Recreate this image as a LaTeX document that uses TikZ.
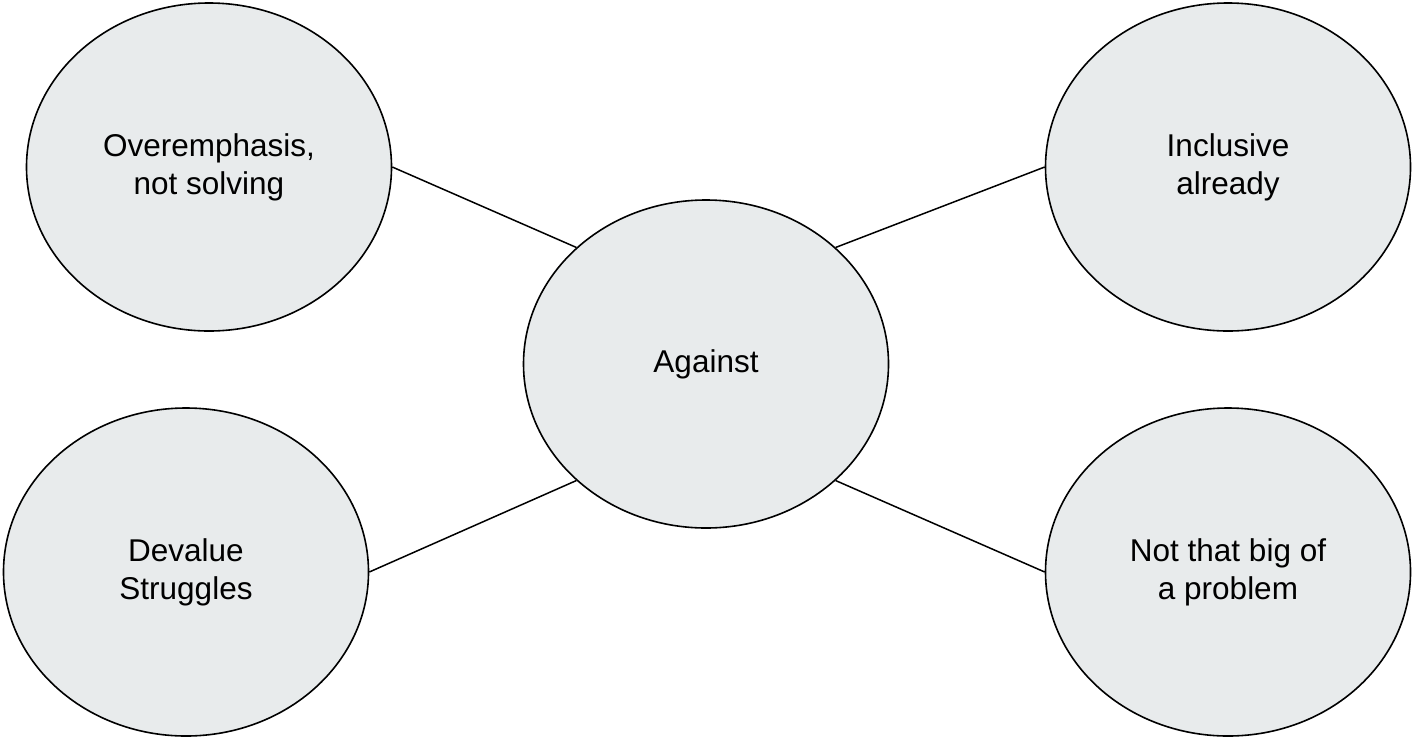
\documentclass[tikz,border=0pt]{standalone}
\usepackage{fontspec}
\setmainfont{Liberation Sans}
\usetikzlibrary{shapes.geometric}
\definecolor{bubblefill}{HTML}{E8EBEC}
\tikzset{
  bubble/.style={ellipse, draw=black, line width=1.6pt, fill=bubblefill,
    minimum width=365pt, minimum height=328pt, inner sep=0pt, align=center,
    font=\fontsize{31.5}{38}\selectfont},
  link/.style={draw=black, line width=1.5pt}
}
\begin{document}
\begin{tikzpicture}[x=1pt,y=-1pt]
\useasboundingbox (0,0) rectangle (1412,737);
\node[bubble] (tl) at (209,167) {Overemphasis,\\not solving};
\node[bubble] (bl) at (186,572) {Devalue\\Struggles};
\node[bubble] (tr) at (1228,167) {Inclusive\\already};
\node[bubble] (br) at (1228,572) {Not that big of\\a problem};
\node[bubble] (c) at (706,364) {Against};
\draw[link] (c.north west) -- (tl.east);
\draw[link] (c.north east) -- (tr.west);
\draw[link] (c.south west) -- (bl.east);
\draw[link] (c.south east) -- (br.west);
\end{tikzpicture}
\end{document}
